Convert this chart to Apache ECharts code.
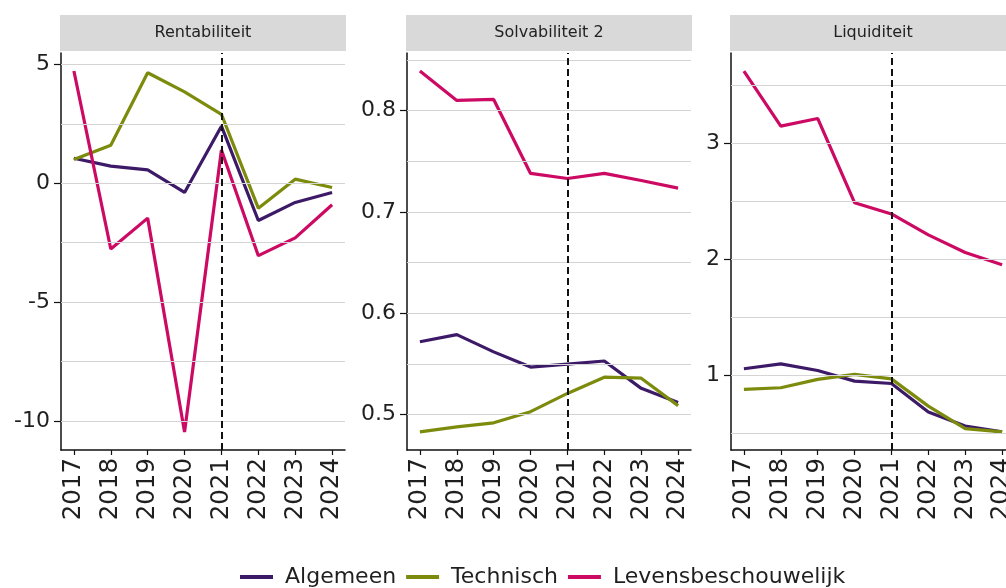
<!DOCTYPE html>
<html>
<head>
<meta charset="utf-8">
<script src="https://cdn.jsdelivr.net/npm/echarts@6/dist/echarts.min.js"></script>
<style>
  html, body { margin: 0; padding: 0; background: #fff; overflow: hidden; }
  #chart { width: 1006px; height: 588px; }
</style>
</head>
<body>
<div id="chart"></div>
<script>
// Years on the x axis
const years = [2017, 2018, 2019, 2020, 2021, 2022, 2023, 2024];

// Panel titles
const panels = ['Rentabiliteit', 'Solvabiliteit 2', 'Liquiditeit'];

// Series names
const seriesNames = ['Algemeen', 'Technisch', 'Levensbeschouwelijk'];

// Rentabiliteit
const rentAlgemeen = [1.05, 0.72, 0.56, -0.39, 2.4, -1.57, -0.81, -0.39];
const rentTechnisch = [1.0, 1.6, 4.65, 3.84, 2.9, -1.05, 0.17, -0.18];
const rentLevens = [4.72, -2.77, -1.47, -10.47, 1.4, -3.05, -2.3, -0.91];

// Solvabiliteit 2
const solvAlgemeen = [0.572, 0.579, 0.562, 0.547, 0.550, 0.553, 0.526, 0.512];
const solvTechnisch = [0.483, 0.488, 0.492, 0.503, 0.521, 0.537, 0.536, 0.509];
const solvLevens = [0.839, 0.810, 0.811, 0.738, 0.733, 0.738, 0.731, 0.7235];

// Liquiditeit
const liqAlgemeen = [1.058, 1.10, 1.043, 0.951, 0.931, 0.685, 0.564, 0.513];
const liqTechnisch = [0.88, 0.894, 0.966, 1.009, 0.971, 0.736, 0.542, 0.513];
const liqLevens = [3.625, 3.15, 3.216, 2.49, 2.393, 2.212, 2.06, 1.954];

// Y tick labels and grid lines per panel
const rentTicks = [-10, -5, 0, 5];
const rentMinor = [-7.5, -2.5, 2.5];
const solvTicks = [0.5, 0.6, 0.7, 0.8];
const solvMinor = [0.55, 0.65, 0.75, 0.85];
const liqTicks = [1, 2, 3];
const liqMinor = [0.5, 1.5, 2.5, 3.5];

// Reference year marked with a dashed line
const markYear = 2021;

const colors = ['#3D1A68', '#7C8B0C', '#CC0A63'];

const panelData = [
  { series: [rentAlgemeen, rentTechnisch, rentLevens], ticks: rentTicks, minor: rentMinor, fmt: v => String(v) },
  { series: [solvAlgemeen, solvTechnisch, solvLevens], ticks: solvTicks, minor: solvMinor, fmt: v => v.toFixed(1) },
  { series: [liqAlgemeen, liqTechnisch, liqLevens], ticks: liqTicks, minor: liqMinor, fmt: v => String(v) }
];

// Panel placement (the third panel runs past the right edge)
const panelLeft = [61, 407, 731];
const panelWidth = 284;
const plotTop = 53;
const plotHeight = 397;

// Data extent with 5% padding on both ends
function padded(arrs) {
  const all = [].concat(...arrs);
  const lo = Math.min(...all), hi = Math.max(...all);
  const pad = (hi - lo) * 0.05;
  return [lo - pad, hi + pad];
}
const xPad = (years[years.length - 1] - years[0]) * 0.05;

const textColor = '#1f1f1f';
const fontFamily = 'DejaVu Sans';

const grids = [], xAxes = [], yAxes = [], series = [], graphics = [];

panelData.forEach((p, i) => {
  grids.push({
    left: panelLeft[i], top: plotTop, width: panelWidth, height: plotHeight,
    containLabel: false, outerBoundsMode: 'none'
  });
  const [ymin, ymax] = padded(p.series);
  xAxes.push({
    type: 'value', gridIndex: i,
    min: years[0] - xPad, max: years[years.length - 1] + xPad,
    axisLine: { show: true, onZero: false, lineStyle: { color: '#111', width: 1.5 } },
    axisTick: { show: true, length: 5, customValues: years, lineStyle: { color: '#111', width: 1.2 } },
    axisLabel: {
      customValues: years, rotate: 90, margin: 8, hideOverlap: false,
      formatter: v => String(v), color: textColor, fontSize: 24.5, fontFamily: fontFamily
    },
    splitLine: { show: false }
  });
  yAxes.push({
    type: 'value', gridIndex: i, min: ymin, max: ymax,
    axisLine: { show: true, onZero: false, lineStyle: { color: '#111', width: 1.5 } },
    axisTick: { show: true, length: 7, customValues: p.ticks, lineStyle: { color: '#111', width: 1.2 } },
    axisLabel: {
      customValues: p.ticks, margin: 11, formatter: p.fmt,
      color: textColor, fontSize: 22, fontFamily: fontFamily
    },
    splitLine: { show: false }
  });

  // grid lines and dashed reference year
  const gridLines = p.ticks.concat(p.minor).map(v => ({ yAxis: v }));
  series.push({
    type: 'line', xAxisIndex: i, yAxisIndex: i, data: [], z: 1, silent: true,
    markLine: {
      silent: true, symbol: 'none', label: { show: false },
      lineStyle: { color: '#D4D4D4', width: 1, type: 'solid' },
      data: gridLines
    }
  });
  series.push({
    type: 'line', xAxisIndex: i, yAxisIndex: i, data: [], z: 5, silent: true,
    markLine: {
      silent: true, symbol: 'none', label: { show: false },
      lineStyle: { color: '#111', width: 2, type: [7, 4] },
      data: [{ xAxis: markYear }]
    }
  });

  p.series.forEach((vals, k) => {
    series.push({
      name: seriesNames[k], type: 'line', xAxisIndex: i, yAxisIndex: i,
      data: years.map((y, j) => [y, vals[j]]),
      symbol: 'none', z: 3,
      lineStyle: { color: colors[k], width: 3.2 },
      itemStyle: { color: colors[k] },
      clip: false
    });
  });

  // facet strip
  graphics.push({
    type: 'group', left: panelLeft[i] - 1, top: 15,
    children: [
      { type: 'rect', shape: { x: 0, y: 0, width: panelWidth + 2, height: 36 }, style: { fill: '#D9D9D9' } },
      {
        type: 'text', x: (panelWidth + 2) / 2, y: 18,
        style: { text: panels[i], fill: '#222', font: '16px "DejaVu Sans"', textAlign: 'center', textVerticalAlign: 'middle' }
      }
    ]
  });
});

const chart = echarts.init(document.getElementById('chart'), null, { renderer: 'canvas' });
chart.setOption({
  animation: false,
  backgroundColor: '#fff',
  grid: grids,
  xAxis: xAxes,
  yAxis: yAxes,
  series: series,
  graphic: graphics,
  legend: {
    data: seriesNames,
    icon: 'rect',
    left: 240, top: 566, padding: 0,
    itemWidth: 33, itemHeight: 4, itemGap: 10,
    textStyle: { color: textColor, fontSize: 22, fontFamily: fontFamily, padding: [0, 0, 0, 7] }
  }
});
</script>
</body>
</html>
